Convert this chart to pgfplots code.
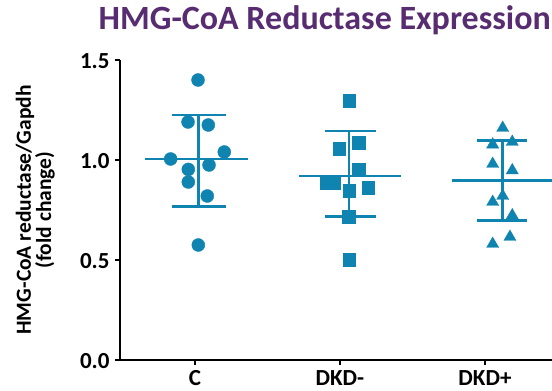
\documentclass[border=0pt]{standalone}
\usepackage{pgfplots}
\pgfplotsset{compat=1.18}
\usepackage{fontspec}
\setmainfont{Carlito}
\definecolor{dotblue}{RGB}{16,132,176}
\definecolor{titlepurple}{RGB}{88,44,112}

% Individual measurements (x = group index with horizontal jitter)
\pgfplotstableread{
x      y
0.021  1.400
-0.048 1.190
0.092  1.175
-0.168 1.005
0.202  1.040
0.097  0.975
-0.046 0.953
-0.046 0.890
0.085  0.820
0.023  0.575
}\ctrl
\pgfplotstableread{
x      y
1.064  1.297
0.995  1.056
1.131  1.085
1.131  0.953
0.910  0.887
0.959  0.887
1.064  0.845
1.195  0.862
1.062  0.717
1.064  0.500
}\dkdneg
\pgfplotstableread{
x      y
2.122  1.160
2.053  1.077
2.188  1.090
2.053  0.980
2.188  0.948
2.122  0.820
2.053  0.790
2.188  0.723
2.172  0.615
2.053  0.580
}\dkdpos

\begin{document}
\begin{tikzpicture}
\path[use as bounding box] (-120pt,-31pt) rectangle (432pt,360pt);
\begin{axis}[
  at={(0,0)}, anchor=south west,
  scale only axis, width=432pt, height=300pt,
  xmin=-0.517, xmax=2.462, ymin=0, ymax=1.5,
  axis x line*=bottom, axis y line*=left,
  axis line style={line width=1.6pt, -},
  xtick={0,1,2}, xticklabels={C,DKD-,DKD+},
  ytick={0,0.5,1,1.5},
  /pgf/number format/fixed,
  /pgf/number format/fixed zerofill,
  /pgf/number format/precision=1,
  /pgf/number format/assume math mode=true,
  tick align=outside, major tick length=5pt,
  tick style={line width=1.6pt, black},
  ticklabel style={font=\fontsize{23}{23}\selectfont\bfseries},
  x tick label style={yshift=-2pt},
  y tick label style={xshift=-2pt, yshift=-1pt},
  title={HMG-CoA Reductase Expression},
  title style={font=\fontsize{34}{34}\selectfont\bfseries, text=titlepurple,
    anchor=base, at={(axis description cs:0.474,1.08)}},
  ylabel={HMG-CoA reductase/Gapdh\\(fold change)},
  ylabel style={font=\fontsize{21.5}{16}\selectfont\bfseries, align=center,
    at={(axis description cs:-0.196,0.5)}, anchor=center},
  mean/.style={dotblue, line width=2.4pt},
]
% mean lines
\addplot[mean] coordinates {(-0.345,1.005) (0.366,1.005)};
\addplot[mean] coordinates {(0.717,0.920) (1.421,0.920)};
\addplot[mean] coordinates {(1.770,0.897) (2.600,0.897)};
% standard deviation bars
\addplot[mean] coordinates {(0.023,0.767) (0.023,1.225)};
\addplot[mean] coordinates {(-0.161,1.225) (0.214,1.225)};
\addplot[mean] coordinates {(-0.161,0.767) (0.214,0.767)};
\addplot[mean] coordinates {(1.064,0.717) (1.064,1.145)};
\addplot[mean] coordinates {(0.897,1.145) (1.248,1.145)};
\addplot[mean] coordinates {(0.897,0.717) (1.248,0.717)};
\addplot[mean] coordinates {(2.122,0.697) (2.122,1.097)};
\addplot[mean] coordinates {(1.943,1.097) (2.292,1.097)};
\addplot[mean] coordinates {(1.943,0.697) (2.292,0.697)};
% individual points
\addplot[only marks, mark=*, mark size=6.5pt, color=dotblue] table[x=x,y=y] {\ctrl};
\addplot[only marks, mark=square*, mark size=6.3pt, color=dotblue] table[x=x,y=y] {\dkdneg};
\addplot[only marks, mark=triangle*, mark size=7pt, color=dotblue] table[x=x,y=y] {\dkdpos};
\end{axis}
\end{tikzpicture}
\end{document}
